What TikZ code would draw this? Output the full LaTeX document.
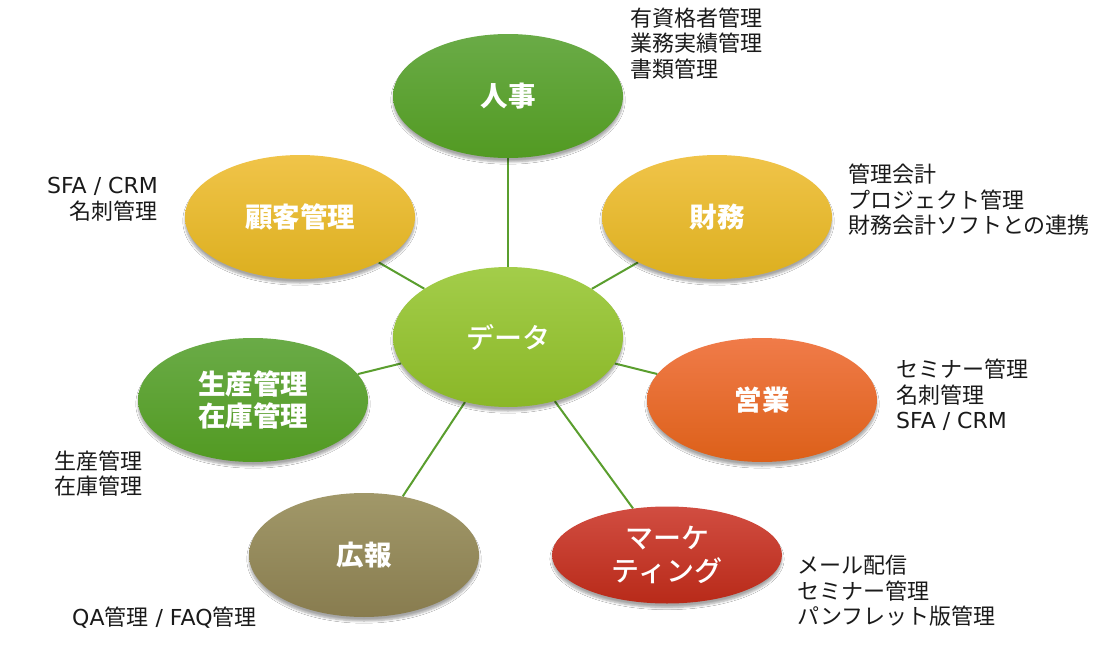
\documentclass[tikz,border=0pt]{standalone}
\usepackage{fontspec}
\setmainfont{Noto Sans CJK JP}
\newfontfamily\lat{DejaVu Sans}
\newfontfamily\jpm{Noto Sans CJK JP Medium}
\usetikzlibrary{shapes.geometric,shadows.blur,backgrounds}
\definecolor{gTop}{HTML}{6AAB47}
\definecolor{gBot}{HTML}{529A22}
\definecolor{yTop}{HTML}{F0C449}
\definecolor{yBot}{HTML}{DCAF1F}
\definecolor{lTop}{HTML}{A3CD4A}
\definecolor{lBot}{HTML}{8AB727}
\definecolor{oTop}{HTML}{F07B49}
\definecolor{oBot}{HTML}{DC6019}
\definecolor{kTop}{HTML}{A19869}
\definecolor{kBot}{HTML}{887C4F}
\definecolor{rTop}{HTML}{D14D41}
\definecolor{rBot}{HTML}{B82A19}
\definecolor{linkc}{HTML}{5A9E2E}
\definecolor{txt}{HTML}{1A1A1A}
\tikzset{
  bubble/.style={ellipse, minimum width=230pt, minimum height=124pt, inner sep=0pt,
    text=white, align=center, font=\fontsize{27.5}{32}\selectfont\bfseries,
    blur shadow={shadow xshift=0pt, shadow yshift=-4pt, shadow blur steps=6, shadow opacity=35}},
  green/.style={bubble, top color=gTop, bottom color=gBot},
  gold/.style={bubble, top color=yTop, bottom color=yBot},
  lime/.style={bubble, top color=lTop, bottom color=lBot},
  orange/.style={bubble, top color=oTop, bottom color=oBot},
  khaki/.style={bubble, top color=kTop, bottom color=kBot},
  redb/.style={bubble, top color=rTop, bottom color=rBot},
  medlabel/.style={font=\fontsize{28}{33}\selectfont\jpm},
  note/.style={inner sep=0pt, text=txt, font=\fontsize{22}{25.5}\selectfont},
  link/.style={draw=linkc, line width=2pt}
}
\begin{document}
\begin{tikzpicture}[x=1pt,y=-1pt]
\useasboundingbox (0,0) rectangle (1120,648);

\node[green] (hr) at (508,96) {人事};
\node[gold] (cust) at (300,217) {顧客管理};
\node[gold] (fin) at (717,217) {財務};
\node[lime, medlabel, minimum height=140pt] (data) at (508,337) {データ};
\node[green] (prod) at (253,400) {生産管理\\在庫管理};
\node[orange] (sales) at (762,400) {営業};
\node[khaki] (pr) at (364,555) {広報};
\node[redb, medlabel, minimum height=97pt] (mkt) at (667,555) {マーケ\\ティング};

\begin{scope}[on background layer]
\fill[white] (0,0) rectangle (1120,648);
\draw[link] (data) -- (hr);
\draw[link] (data) -- (cust);
\draw[link] (data) -- (fin);
\draw[link] (data) -- (prod);
\draw[link] (data) -- (sales);
\draw[link] (data) -- (pr);
\draw[link] (data) -- (mkt);
\end{scope}

\node[note, anchor=west, align=left] (hrn) at (630,43.5) {有資格者管理\\業務実績管理\\書類管理};
\node[note, anchor=east, align=right] (custn) at (158,199) {{\lat SFA / CRM}\\名刺管理};
\node[note, anchor=west, align=left] (finn) at (848,200) {管理会計\\プロジェクト管理\\財務会計ソフトとの連携};
\node[note, anchor=west, align=left] (salesn) at (896,395) {セミナー管理\\名刺管理\\{\lat SFA / CRM}};
\node[note, anchor=west, align=left] (prodn) at (54,473.5) {生産管理\\在庫管理};
\node[note, anchor=west, align=left] (prn) at (72,617.5) {{\lat QA}管理{\lat\ / FAQ}管理};
\node[note, anchor=west, align=left] (mktn) at (797,591) {メール配信\\セミナー管理\\パンフレット版管理};
\end{tikzpicture}
\end{document}
